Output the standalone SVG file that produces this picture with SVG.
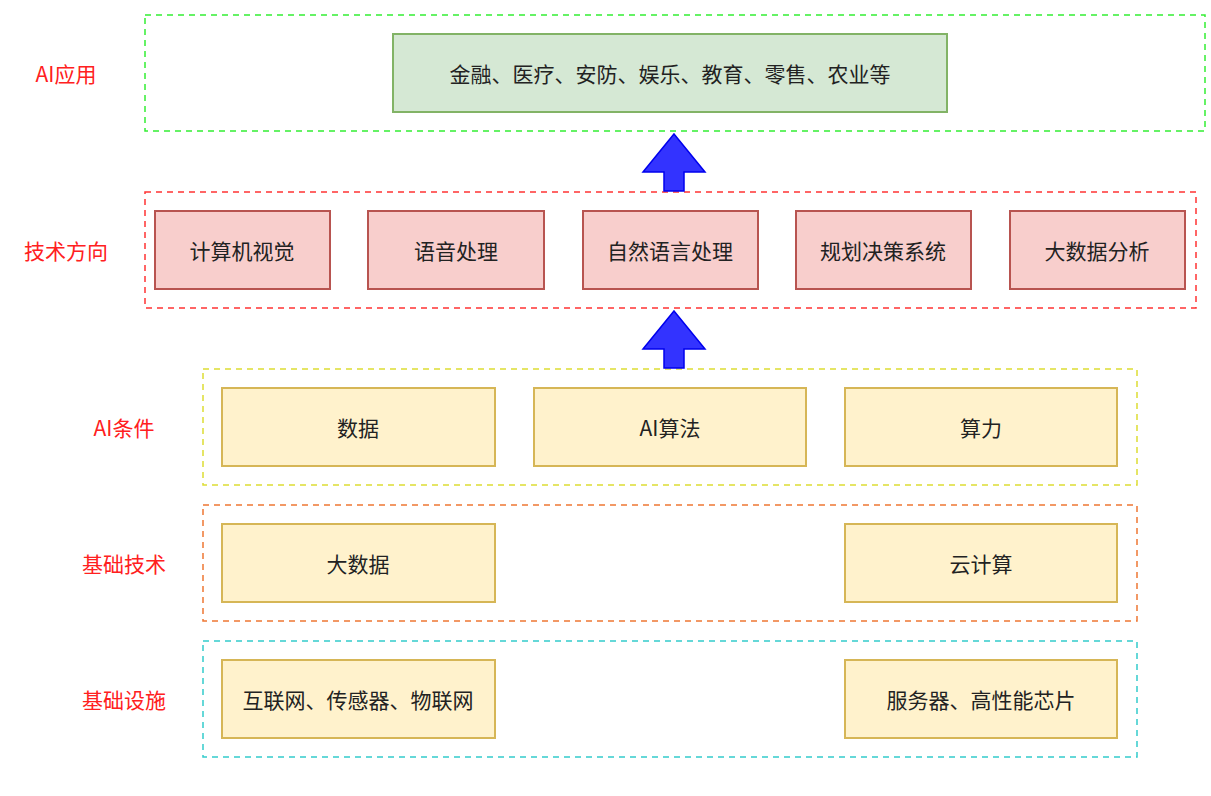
<svg xmlns="http://www.w3.org/2000/svg" width="1211" height="796" viewBox="0 0 1211 796">
<style>
text{font-family:"Noto Sans CJK SC","Noto Sans",sans-serif;font-size:21px;text-anchor:middle;dominant-baseline:central;fill:#222}
.lbl{fill:#ff2020}
.fr{fill:none;stroke-width:1.5;stroke-dasharray:6 5}
.y{fill:#fff2cc;stroke:#d6b656;stroke-width:2}
.r{fill:#f8cecc;stroke:#b85450;stroke-width:2}
.g{fill:#d5e8d4;stroke:#82b366;stroke-width:2}
.ar{fill:#3333ff;stroke:#0000ee;stroke-width:1.5}
</style>
<g id="frames">
<rect class="fr" x="145" y="15" width="1060" height="116" stroke="#33ee33"/>
<rect class="fr" x="145" y="192" width="1051" height="116" stroke="#ff3333"/>
<rect class="fr" x="203" y="369" width="934" height="116" stroke="#dddd33"/>
<rect class="fr" x="203" y="505" width="934" height="116" stroke="#ee7733"/>
<rect class="fr" x="203" y="641" width="934" height="116" stroke="#33cccc"/>
</g>
<g id="labels">
<text class="lbl" x="66" y="73">AI应用</text>
<text class="lbl" x="66" y="250">技术方向</text>
<text class="lbl" x="124" y="427">AI条件</text>
<text class="lbl" x="124" y="563">基础技术</text>
<text class="lbl" x="124" y="699">基础设施</text>
</g>
<g id="n-app"><rect class="g" x="393" y="34" width="554" height="78"/><text x="670" y="73">金融、医疗、安防、娱乐、教育、零售、农业等</text></g>
<g id="n-cv"><rect class="r" x="155" y="211" width="175" height="78"/><text x="242" y="250">计算机视觉</text></g>
<g id="n-sp"><rect class="r" x="368" y="211" width="176" height="78"/><text x="456" y="250">语音处理</text></g>
<g id="n-nlp"><rect class="r" x="583" y="211" width="175" height="78"/><text x="670" y="250">自然语言处理</text></g>
<g id="n-plan"><rect class="r" x="796" y="211" width="175" height="78"/><text x="883" y="250">规划决策系统</text></g>
<g id="n-bda"><rect class="r" x="1010" y="211" width="175" height="78"/><text x="1097" y="250">大数据分析</text></g>
<g id="n-data"><rect class="y" x="222" y="388" width="273" height="78"/><text x="358" y="427">数据</text></g>
<g id="n-algo"><rect class="y" x="534" y="388" width="272" height="78"/><text x="670" y="427">AI算法</text></g>
<g id="n-comp"><rect class="y" x="845" y="388" width="272" height="78"/><text x="981" y="427">算力</text></g>
<g id="n-bd"><rect class="y" x="222" y="524" width="273" height="78"/><text x="358" y="563">大数据</text></g>
<g id="n-cloud"><rect class="y" x="845" y="524" width="272" height="78"/><text x="981" y="563">云计算</text></g>
<g id="n-iot"><rect class="y" x="222" y="660" width="273" height="78"/><text x="358" y="699">互联网、传感器、物联网</text></g>
<g id="n-srv"><rect class="y" x="845" y="660" width="272" height="78"/><text x="981" y="699">服务器、高性能芯片</text></g>
<g id="connectors">
<path class="ar" d="M674,134 L705,172 L684,172 L684,191 L664,191 L664,172 L643,172 Z"/>
<path class="ar" d="M674,311 L705,349 L684,349 L684,368 L664,368 L664,349 L643,349 Z"/>
</g>
</svg>
